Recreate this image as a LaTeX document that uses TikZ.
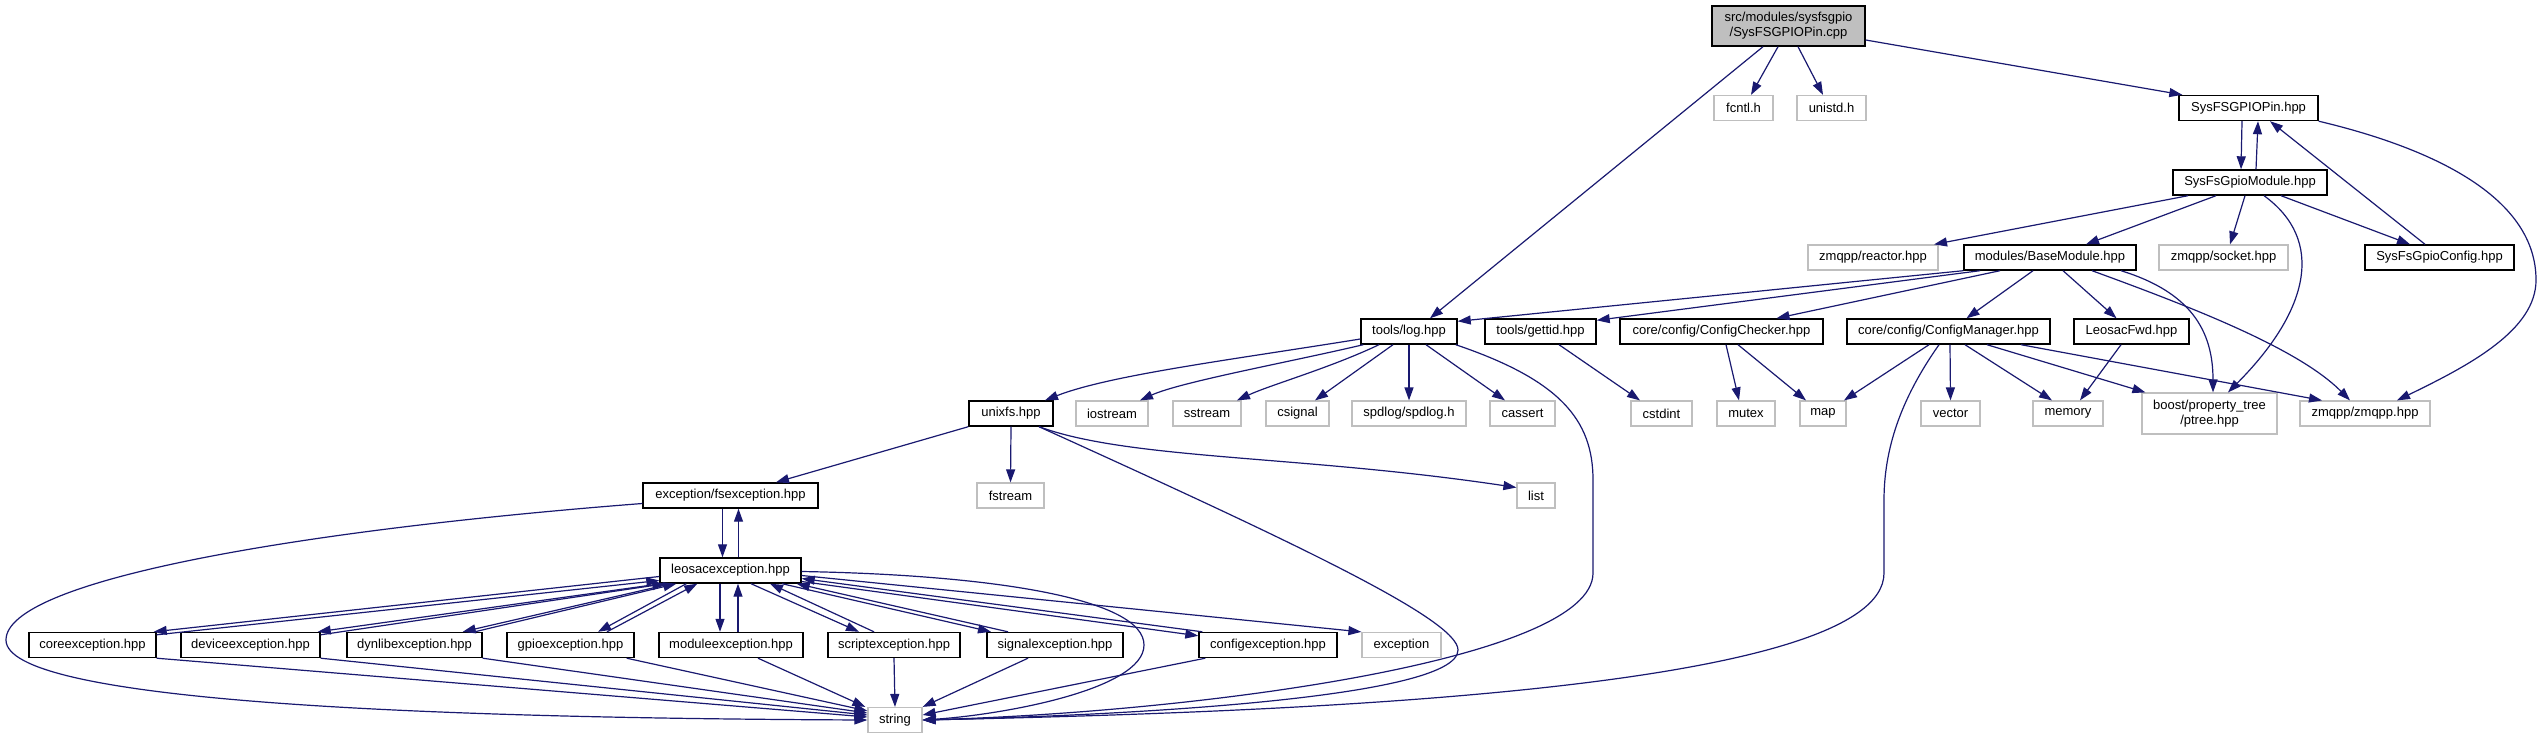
\documentclass[tikz,border=0pt]{standalone}
\usepackage{fontspec}
\setmainfont{Liberation Sans}
\usetikzlibrary{arrows.meta}
\definecolor{edgecol}{HTML}{191970}
\definecolor{sysgray}{HTML}{BFBFBF}
\definecolor{maingray}{HTML}{BFBFBF}
\tikzset{
  dep/.style={draw=edgecol, line width=1.2pt, -{Triangle[length=13pt,width=9pt]}},
  fnode/.style={draw=black, line width=1.4pt, fill=white, inner sep=0pt, minimum height=25pt, align=center, font=\fontsize{13pt}{15pt}\selectfont},
  snode/.style={draw=sysgray, line width=1.2pt, fill=white, inner sep=0pt, minimum height=25pt, align=center, font=\fontsize{13pt}{15pt}\selectfont},
  mainnode/.style={fnode, fill=maingray}
}
\begin{document}
\begin{tikzpicture}[x=1pt,y=-1pt]
\useasboundingbox (0,0) rectangle (2542,739);
\fill[white] (0,0) rectangle (2542,739);
% Row 0
\node[mainnode, minimum width=153pt, minimum height=40pt] (main) at (1788.5,26) {src/modules/sysfsgpio\\/SysFSGPIOPin.cpp};
% Row 1
\node[snode, minimum width=59pt] (fcntl) at (1743.5,108) {fcntl.h};
\node[snode, minimum width=69pt] (unistd) at (1831.5,108) {unistd.h};
\node[fnode, minimum width=139pt] (pin) at (2248.5,108) {SysFSGPIOPin.hpp};
% Row 2
\node[fnode, minimum width=154pt] (gmod) at (2250,182.5) {SysFsGpioModule.hpp};
% Row 3
\node[snode, minimum width=130pt] (reactor) at (1873,257.5) {zmqpp/reactor.hpp};
\node[fnode, minimum width=172pt] (basemod) at (2050,257.5) {modules/BaseModule.hpp};
\node[snode, minimum width=129pt] (socket) at (2223.5,257.5) {zmqpp/socket.hpp};
\node[fnode, minimum width=149pt] (gcfg) at (2439.5,257.5) {SysFsGpioConfig.hpp};
% Row 4
\node[fnode, minimum width=96pt] (log) at (1409,331.5) {tools/log.hpp};
\node[fnode, minimum width=111pt] (gettid) at (1540.5,331.5) {tools/gettid.hpp};
\node[fnode, minimum width=203pt] (cchk) at (1721.5,331.5) {core/config/ConfigChecker.hpp};
\node[fnode, minimum width=203pt] (cmgr) at (1948.5,331.5) {core/config/ConfigManager.hpp};
\node[fnode, minimum width=115pt] (lfwd) at (2131.5,331.5) {LeosacFwd.hpp};
% Row 5
\node[fnode, minimum width=84pt] (unixfs) at (1011,413.5) {unixfs.hpp};
\node[snode, minimum width=72pt] (iostream) at (1112,413.5) {iostream};
\node[snode, minimum width=68pt] (sstream) at (1207,413.5) {sstream};
\node[snode, minimum width=63pt] (csignal) at (1297.5,413.5) {csignal};
\node[snode, minimum width=114pt] (spdlog) at (1409,413.5) {spdlog/spdlog.h};
\node[snode, minimum width=65pt] (cassert) at (1522.5,413.5) {cassert};
\node[snode, minimum width=61pt] (cstdint) at (1661.5,413.5) {cstdint};
\node[snode, minimum width=58pt] (mutex) at (1746,413.5) {mutex};
\node[snode, minimum width=46pt] (map) at (1823,413.5) {map};
\node[snode, minimum width=59pt] (vector) at (1950.5,413.5) {vector};
\node[snode, minimum width=70pt] (memory) at (2068,413.5) {memory};
\node[snode, minimum width=135pt, minimum height=41pt] (boost) at (2209.5,413.5) {boost/property\_tree\\/ptree.hpp};
\node[snode, minimum width=130pt] (zmqpp) at (2365,413.5) {zmqpp/zmqpp.hpp};
% Row 6
\node[fnode, minimum width=175pt] (fsexc) at (730.5,495.5) {exception/fsexception.hpp};
\node[snode, minimum width=67pt] (fstream) at (1010.5,495.5) {fstream};
\node[snode, minimum width=38pt] (list) at (1536,495.5) {list};
% Row 7
\node[fnode, minimum width=141pt] (leosac) at (730.5,570.5) {leosacexception.hpp};
% Row 8
\node[fnode, minimum width=127pt] (coreexc) at (92.5,645) {coreexception.hpp};
\node[fnode, minimum width=139pt] (devexc) at (250.5,645) {deviceexception.hpp};
\node[fnode, minimum width=135pt] (dynexc) at (414.5,645) {dynlibexception.hpp};
\node[fnode, minimum width=127pt] (gpioexc) at (570.5,645) {gpioexception.hpp};
\node[fnode, minimum width=144pt] (modexc) at (731,645) {moduleexception.hpp};
\node[fnode, minimum width=132pt] (screxc) at (894,645) {scriptexception.hpp};
\node[fnode, minimum width=136pt] (sigexc) at (1055,645) {signalexception.hpp};
\node[fnode, minimum width=138pt] (cfgexc) at (1268,645) {configexception.hpp};
\node[snode, minimum width=79pt] (exc) at (1401.5,645) {exception};
% Row 9
\node[snode, minimum width=54pt] (string) at (895,720) {string};

% ---- edges ----
\draw[dep] ([xshift=-10.5pt]main.south) -- ([xshift=7.5pt]fcntl.north);
\draw[dep] ([xshift=9.5pt]main.south) -- ([xshift=-8.5pt]unistd.north);
\draw[dep] ([yshift=-14pt]main.east) -- ([xshift=4pt]pin.north west);
\draw[dep] ([xshift=-25.5pt]main.south) -- ([xshift=21pt]log.north);
\draw[dep] ([xshift=-6.5pt]pin.south) -- ([xshift=-9pt]gmod.north);
\draw[dep] ([xshift=6pt]gmod.north) -- ([xshift=9.5pt]pin.south);
\draw[dep] ([xshift=-14.5pt]gcfg.north) -- ([xshift=21.5pt]pin.south);
\draw[dep] (pin.south east) .. controls (2440,150) and (2536,200) .. (2536,280) .. controls (2536,330) and (2470,365) .. ([xshift=32pt]zmqpp.north);
% gmod
\draw[dep] ([xshift=-62pt]gmod.south) -- ([xshift=61pt]reactor.north);
\draw[dep] ([xshift=-34pt]gmod.south) -- ([xshift=36pt]basemod.north);
\draw[dep] ([xshift=-5pt]gmod.south) -- ([xshift=6.5pt]socket.north);
\draw[dep] ([xshift=31pt]gmod.south) -- ([xshift=-29.5pt]gcfg.north);
\draw[dep] ([xshift=14pt]gmod.south) .. controls (2325,240) and (2310,310) .. ([xshift=18.5pt]boost.north);
% basemod
\draw[dep] (basemod.south west) -- ([yshift=-3pt]log.north east);
\draw[dep] ([xshift=-70pt]basemod.south) -- ([yshift=-2pt]gettid.north east);
\draw[dep] ([xshift=-50pt]basemod.south) -- ([xshift=55pt]cchk.north);
\draw[dep] ([xshift=-17pt]basemod.south) -- ([xshift=18pt]cmgr.north);
\draw[dep] ([xshift=13pt]basemod.south) -- ([xshift=-15pt]lfwd.north);
\draw[dep] ([xshift=42pt]basemod.south) .. controls (2200,310) and (2300,350) .. ([xshift=-15pt]zmqpp.north);
\draw[dep] ([xshift=71pt]basemod.south) .. controls (2190,292) and (2213,330) .. ([xshift=3.5pt]boost.north);
% log
\draw[dep] ([yshift=-7.5pt]log.west) .. controls (1230,360) and (1110,375) .. ([xshift=34pt]unixfs.north);
\draw[dep] ([xshift=3pt]log.south west) .. controls (1290,362) and (1180,382) .. ([xshift=28pt]iostream.north);
\draw[dep] ([xshift=-30pt]log.south) .. controls (1330,368) and (1270,385) .. ([xshift=30pt]sstream.north);
\draw[dep] ([xshift=-16pt]log.south) -- ([xshift=17.5pt]csignal.north);
\draw[dep] (log.south) -- (spdlog.north);
\draw[dep] ([xshift=17pt]log.south) -- ([xshift=-17.5pt]cassert.north);
\draw[dep] ([xshift=-2pt]log.south east) .. controls (1560,380) and (1593,420) .. (1593,480) -- (1593,573) .. controls (1593,660) and (1200,712) .. (string.east);
% others row4
\draw[dep] ([xshift=18.5pt]gettid.south) -- ([xshift=-21.5pt]cstdint.north);
\draw[dep] ([xshift=4.5pt]cchk.south) -- ([xshift=-7pt]mutex.north);
\draw[dep] ([xshift=16.5pt]cchk.south) -- ([xshift=-17pt]map.north);
\draw[dep] ([xshift=-19.5pt]cmgr.south) -- ([xshift=21pt]map.north);
\draw[dep] ([xshift=-9.5pt]cmgr.south) .. controls (1900,400) and (1884,450) .. (1884,500) -- (1884,573) .. controls (1884,690) and (1300,712) .. (string.east);
\draw[dep] ([xshift=1.5pt]cmgr.south) -- (vector.north);
\draw[dep] ([xshift=16.5pt]cmgr.south) -- ([xshift=-16pt]memory.north);
\draw[dep] ([xshift=38.5pt]cmgr.south) -- ([xshift=4pt]boost.north west);
\draw[dep] ([xshift=72.5pt]cmgr.south) -- ([xshift=-43pt]zmqpp.north);
\draw[dep] ([xshift=-10.5pt]lfwd.south) -- ([xshift=12pt]memory.north);
% unixfs
\draw[dep] (unixfs.south west) -- ([xshift=45.5pt]fsexc.north);
\draw[dep] (unixfs.south) -- (fstream.north);
\draw[dep] ([xshift=28pt]unixfs.south) .. controls (1130,460) and (1300,455) .. ([yshift=8pt]list.west);
\draw[dep] ([xshift=28pt]unixfs.south) .. controls (1300,545) and (1458,620) .. (1458,650) .. controls (1458,700) and (1100,716) .. (string.east);
% fsexception
\draw[dep] ([xshift=-8pt]fsexc.south) -- ([xshift=-8pt]leosac.north);
\draw[dep] ([xshift=8pt]leosac.north) -- ([xshift=8pt]fsexc.south);
\draw[dep] ([yshift=-8pt]fsexc.west) .. controls (300,530) and (6,580) .. (6,640) .. controls (6,700) and (400,718) .. (string.west);
% leosac -> exceptions and back
\draw[dep] ([yshift=-6pt]leosac.west) -- ([xshift=-3pt]coreexc.north east);
\draw[dep] ([yshift=-3pt]coreexc.north east) -- ([yshift=-10pt]leosac.west);
\draw[dep] ([xshift=2pt]leosac.south west) -- ([xshift=-3pt]devexc.north east);
\draw[dep] ([yshift=-3pt]devexc.north east) -- ([xshift=6pt]leosac.south west);
\draw[dep] ([xshift=12pt]leosac.south west) -- ([xshift=-20pt]dynexc.north east);
\draw[dep] ([xshift=-8pt]dynexc.north east) -- ([xshift=17pt]leosac.south west);
\draw[dep] ([xshift=27pt]leosac.south west) -- ([xshift=27.5pt]gpioexc.north);
\draw[dep] ([xshift=36.5pt]gpioexc.north) -- ([xshift=38pt]leosac.south west);
\draw[dep] ([xshift=-10.5pt]leosac.south) -- ([xshift=-11pt]modexc.north);
\draw[dep] ([xshift=7pt]modexc.north) -- ([xshift=7.5pt]leosac.south);
\draw[dep] ([xshift=20.5pt]leosac.south) -- ([xshift=-35pt]screxc.north);
\draw[dep] ([xshift=-20pt]screxc.north) -- ([xshift=39.5pt]leosac.south);
\draw[dep] ([xshift=51.5pt]leosac.south) -- ([xshift=-64pt]sigexc.north);
\draw[dep] ([xshift=-47pt]sigexc.north) -- ([xshift=-5pt]leosac.south east);
\draw[dep] ([yshift=-11pt]leosac.east) -- ([yshift=-4pt]cfgexc.north west);
\draw[dep] ([xshift=4pt]cfgexc.north west) -- ([yshift=-8pt]leosac.east);
\draw[dep] ([yshift=-5pt]leosac.east) -- (exc.north west);
\draw[dep] ([yshift=-1pt]leosac.east) .. controls (1000,575) and (1144,600) .. (1144,645) .. controls (1144,690) and (1000,715) .. (string.east);
% exceptions -> string
\draw[dep] (coreexc.south east) -- ([yshift=3pt]string.west);
\draw[dep] (devexc.south east) -- ([yshift=5pt]string.west);
\draw[dep] (dynexc.south east) -- ([yshift=7pt]string.west);
\draw[dep] ([xshift=-8pt]gpioexc.south east) -- ([yshift=-4pt]string.north west);
\draw[dep] ([xshift=27pt]modexc.south) -- ([xshift=-2pt]string.north west);
\draw[dep] (screxc.south) -- (string.north);
\draw[dep] ([xshift=-27pt]sigexc.south) -- (string.north east);
\draw[dep] ([xshift=7pt]cfgexc.south west) -- ([yshift=5pt]string.east);
\end{tikzpicture}
\end{document}
